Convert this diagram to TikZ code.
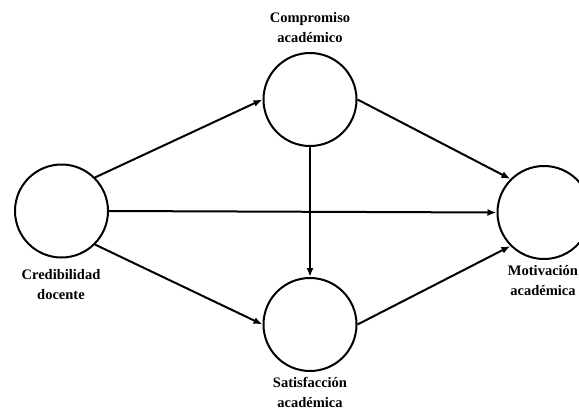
\documentclass[tikz,border=0pt]{standalone}
\usepackage{fontspec}
\setmainfont{Liberation Serif}
\usetikzlibrary{positioning,arrows.meta}

\begin{document}
\begin{tikzpicture}[
  x=1pt, y=-1pt,
  construct/.style={circle,draw,line width=2pt,minimum size=93pt,inner sep=0pt},
  caption/.style={align=center,font=\fontsize{14.5}{20}\selectfont\bfseries,inner sep=0pt},
  path/.style={-{Latex[length=9pt,width=7pt]},line width=2pt}
]
  \clip (0,0) rectangle (579,410);
  \useasboundingbox (0,0) rectangle (579,410);

  \node[construct] (cred) at (61.5,211) {};
  \node[construct] (comp) at (310,99.5) {};
  \node[construct] (sat)  at (310,324.5) {};
  \node[construct] (mot)  at (544,212.5) {};

  \node[caption] (credlab) at (61,285) {Credibilidad\\docente};
  \node[caption] (complab) at (310,28) {Compromiso\\académico};
  \node[caption] (satlab)  at (310,392) {Satisfacción\\académica};
  \node[caption] (motlab)  at (543,281) {Motivación\\académica};

  \draw[path] (cred.north east) -- (comp.west);
  \draw[path] (cred.east) -- (mot.west);
  \draw[path] (cred.south east) -- (sat.west);
  \draw[path] (comp.east) -- (mot.north west);
  \draw[path] (comp.south) -- (sat.north);
  \draw[path] (sat.east) -- (mot.south west);
\end{tikzpicture}
\end{document}
